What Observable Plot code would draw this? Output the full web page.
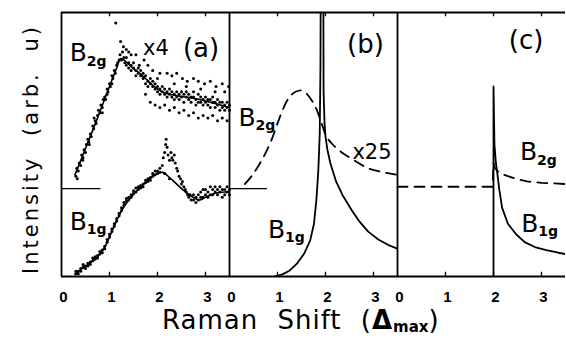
<!DOCTYPE html>
<html><head><meta charset="utf-8">
<script src="https://cdn.jsdelivr.net/npm/d3@7"></script>
<script src="https://cdn.jsdelivr.net/npm/@observablehq/plot@0.6"></script>
<style>
body{margin:0;background:#fff;overflow:hidden}
#wrap{position:relative;width:566px;height:339px;font-family:"DejaVu Sans",sans-serif;color:#000}
#ytitle{position:absolute;left:31px;top:149px;transform:translate(-50%,-50%) rotate(-90deg);white-space:nowrap;font-size:21px;letter-spacing:3px;word-spacing:10px;line-height:1}
#xtitle{position:absolute;left:162px;top:307px;white-space:nowrap;font-size:26px;letter-spacing:1px;word-spacing:10px;line-height:1}
#xtitle sub{font-size:15px;font-weight:bold;vertical-align:-3px;letter-spacing:0}
</style></head><body>
<div id="wrap"><div id="plot"></div><div id="ytitle">Intensity (arb. u)</div><div id="xtitle">Raman Shift (<b>Δ</b><sub>max</sub>)</div></div>
<script>
const panels = ["a", "b", "c"];
const xTicks = [0, 1, 2, 3];

// Panel (a): fits
const aB2gFitX = [0.28, 0.5, 0.75, 1.0, 1.15, 1.23, 1.3, 1.45, 1.66, 1.9, 2.09, 2.4, 2.66, 3.0, 3.2, 3.5];
const aB2gFitY = [0.385, 0.485, 0.60, 0.72, 0.79, 0.825, 0.82, 0.795, 0.765, 0.725, 0.70, 0.685, 0.678, 0.665, 0.655, 0.64];
const aB1gFitX = [0.28, 0.45, 0.65, 0.81, 0.92, 1.02, 1.12, 1.22, 1.32, 1.45, 1.6, 1.8, 1.95, 2.1, 2.25, 2.4, 2.55, 2.7, 2.87, 3.0, 3.2, 3.4, 3.5];
const aB1gFitY = [0.01, 0.032, 0.058, 0.087, 0.118, 0.158, 0.2, 0.238, 0.27, 0.30, 0.33, 0.364, 0.385, 0.395, 0.375, 0.35, 0.325, 0.305, 0.29, 0.30, 0.315, 0.32, 0.32];

// Panel (a): measured points [shift, intensity]
const aB2gPoints = [[0.30,0.38],[0.32,0.41],[0.33,0.37],[0.35,0.40],[0.37,0.43],[0.40,0.42],[0.42,0.46],[0.44,0.44],[0.45,0.45],[0.47,0.48],[0.50,0.47],[0.52,0.50],[0.55,0.52],[0.57,0.51],[0.58,0.50],[0.60,0.54],[0.62,0.53],[0.65,0.57],[0.67,0.56],[0.68,0.60],[0.70,0.59],[0.72,0.58],[0.75,0.61],[0.77,0.63],[0.80,0.62],[0.82,0.65],[0.85,0.64],[0.85,0.62],[0.87,0.67],[0.90,0.68],[0.92,0.67],[0.95,0.71],[0.95,0.69],[0.97,0.70],[1.00,0.73],[1.02,0.72],[1.05,0.76],[1.05,0.73],[1.07,0.75],[1.10,0.78],[1.12,0.77],[1.13,0.96],[1.15,0.80],[1.17,0.81],[1.20,0.82],[1.22,0.84],[1.23,0.89],[1.25,0.82],[1.27,0.85],[1.29,0.87],[1.30,0.83],[1.32,0.81],
[1.35,0.83],[1.35,0.80],[1.35,0.86],[1.40,0.81],[1.40,0.79],[1.40,0.85],[1.45,0.80],[1.45,0.78],[1.45,0.84],[1.50,0.79],[1.50,0.81],[1.55,0.78],[1.55,0.76],[1.55,0.84],[1.60,0.77],[1.60,0.79],[1.62,0.80],[1.65,0.76],[1.65,0.78],[1.70,0.75],[1.70,0.77],[1.72,0.82],[1.75,0.76],[1.75,0.73],[1.75,0.69],[1.80,0.74],[1.80,0.72],[1.80,0.80],[1.85,0.73],[1.85,0.75],[1.85,0.66],[1.90,0.72],[1.90,0.74],[1.90,0.78],[1.95,0.71],[1.95,0.73],[1.95,0.65],[2.00,0.70],[2.00,0.72],[2.00,0.75],[2.05,0.71],[2.05,0.69],[2.05,0.77],[2.05,0.64],[2.10,0.70],[2.10,0.72],[2.15,0.69],[2.15,0.71],[2.15,0.65],[2.20,0.70],[2.20,0.68],[2.20,0.77],[2.25,0.69],[2.25,0.71],[2.25,0.63],[2.30,0.68],[2.30,0.70],[2.30,0.76],[2.35,0.69],[2.35,0.67],[2.35,0.73],[2.35,0.64],[2.40,0.70],[2.40,0.68],[2.40,0.77],[2.45,0.67],[2.45,0.69],[2.45,0.62],[2.50,0.68],[2.50,0.70],[2.52,0.75],[2.55,0.66],[2.55,0.69],[2.55,0.63],[2.60,0.68],[2.60,0.70],[2.60,0.72],[2.62,0.74],[2.65,0.67],[2.65,0.69],[2.65,0.61],[2.70,0.66],[2.70,0.68],[2.75,0.68],[2.75,0.70],[2.75,0.75],[2.75,0.62],[2.80,0.67],[2.80,0.65],[2.85,0.66],[2.85,0.69],[2.85,0.74],[2.85,0.60],[2.90,0.68],[2.90,0.66],[2.90,0.71],[2.95,0.67],[2.95,0.65],[2.95,0.61],[2.98,0.73],[3.00,0.66],[3.00,0.68],[3.05,0.65],[3.05,0.67],[3.05,0.60],[3.10,0.67],[3.10,0.64],[3.10,0.74],[3.15,0.66],[3.15,0.68],[3.15,0.61],[3.20,0.64],[3.20,0.66],[3.20,0.70],[3.22,0.72],[3.25,0.65],[3.25,0.67],[3.25,0.59],[3.30,0.66],[3.30,0.63],[3.35,0.64],[3.35,0.66],[3.35,0.73],[3.35,0.60],[3.40,0.65],[3.40,0.63],[3.40,0.70],[3.45,0.64],[3.45,0.66],[3.45,0.59],[3.48,0.72],[3.50,0.63],[3.50,0.65]];
const aB1gPoints = [[0.30,0.01],[0.30,0.02],[0.35,0.02],[0.35,0.01],[0.40,0.03],[0.40,0.02],[0.45,0.035],[0.45,0.045],[0.50,0.04],[0.50,0.03],[0.55,0.05],[0.55,0.04],[0.60,0.055],[0.60,0.045],[0.65,0.06],[0.65,0.07],[0.70,0.065],[0.70,0.075],[0.75,0.08],[0.75,0.07],[0.80,0.085],[0.80,0.095],[0.85,0.10],[0.85,0.09],[0.90,0.115],[0.90,0.105],[0.95,0.13],[0.95,0.14],[1.00,0.15],[1.00,0.16],[1.05,0.17],[1.05,0.18],[1.10,0.20],[1.10,0.19],[1.15,0.22],[1.15,0.21],[1.20,0.24],[1.20,0.23],[1.25,0.25],[1.25,0.26],[1.30,0.27],[1.30,0.28],[1.35,0.285],[1.35,0.295],[1.40,0.30],[1.40,0.29],[1.45,0.30],[1.45,0.31],[1.50,0.315],[1.50,0.325],[1.55,0.32],[1.55,0.335],[1.60,0.33],[1.60,0.34],[1.65,0.345],[1.65,0.335],[1.70,0.35],[1.70,0.34],[1.75,0.355],[1.75,0.365],[1.80,0.36],[1.80,0.37],[1.85,0.375],[1.85,0.365],[1.90,0.38],[1.90,0.39],[1.95,0.385],[1.95,0.40],[2.00,0.39],[2.00,0.40],[2.05,0.41],[2.05,0.395],
[2.10,0.42],[2.12,0.45],[2.15,0.47],[2.15,0.39],[2.17,0.50],[2.18,0.52],[2.20,0.49],[2.22,0.46],[2.25,0.44],[2.25,0.37],[2.28,0.47],[2.30,0.45],[2.32,0.44],[2.35,0.46],[2.37,0.43],[2.40,0.41],[2.42,0.40],[2.45,0.38],[2.48,0.37],[2.50,0.35],[2.52,0.36],[2.55,0.34],[2.58,0.33],[2.60,0.32],[2.63,0.31],[2.65,0.30],[2.68,0.31],[2.70,0.29],
[2.75,0.29],[2.75,0.31],[2.80,0.30],[2.80,0.28],[2.85,0.31],[2.85,0.29],[2.90,0.32],[2.90,0.30],[2.95,0.30],[2.95,0.33],[3.00,0.31],[3.00,0.33],[3.05,0.32],[3.05,0.30],[3.10,0.34],[3.10,0.31],[3.15,0.33],[3.15,0.31],[3.20,0.32],[3.20,0.34],[3.25,0.31],[3.25,0.33],[3.30,0.34],[3.30,0.32],[3.35,0.30],[3.35,0.33],[3.40,0.33],[3.40,0.31],[3.45,0.32],[3.45,0.34],[3.50,0.31],[3.50,0.33]];

// Zero level of the shifted B2g spectra (panels a and b)
const zeroPanels = ["a", "b"];
const zeroEnd = [0.8, 0.77];
const zeroLevel = 0.333;

// Panel (b)
const bB1gX = [0.93, 1.1, 1.25, 1.41, 1.55, 1.68, 1.76, 1.81, 1.85, 1.88, 1.895, 1.90, 1.955, 1.96, 1.98, 2.0, 2.04, 2.1, 2.22, 2.35, 2.55, 2.7, 2.89, 3.1, 3.3, 3.5];
const bB1gY = [0.0, 0.008, 0.022, 0.05, 0.085, 0.136, 0.2, 0.29, 0.4, 0.54, 0.8, 1.1, 1.1, 0.7, 0.58, 0.53, 0.48, 0.43, 0.36, 0.31, 0.25, 0.21, 0.17, 0.14, 0.12, 0.105];
const bB2gX = [0.32, 0.5, 0.7, 0.87, 1.0, 1.13, 1.25, 1.38, 1.5, 1.62, 1.72, 1.82, 1.92, 2.02, 2.15, 2.34, 2.6, 2.89, 3.2, 3.5];
const bB2gY = [0.35, 0.39, 0.45, 0.515, 0.58, 0.64, 0.68, 0.70, 0.705, 0.69, 0.665, 0.63, 0.58, 0.53, 0.50, 0.47, 0.44, 0.41, 0.395, 0.385];

// Panel (c)
const cB1gX = [2.0, 2.0, 2.02, 2.05, 2.08, 2.12, 2.18, 2.3, 2.47, 2.65, 2.88, 3.1, 3.35, 3.5];
const cB1gY = [0.0, 0.72, 0.5, 0.43, 0.39, 0.33, 0.26, 0.2, 0.16, 0.13, 0.11, 0.10, 0.09, 0.085];
const cB2gX = [0, 0.5, 1.0, 1.5, 1.98, 2.0, 2.03, 2.08, 2.15, 2.3, 2.47, 2.7, 3.0, 3.35, 3.5];
const cB2gY = [0.34, 0.34, 0.34, 0.34, 0.34, 0.43, 0.41, 0.40, 0.39, 0.38, 0.37, 0.36, 0.355, 0.352, 0.35];

// Annotations
const symPanel = ["a", "a", "b", "b", "c", "c"];
const symX = [0.17, 0.17, 0.19, 0.80, 2.55, 2.58];
const symY = [0.845, 0.208, 0.602, 0.178, 0.47, 0.20];
const symSub = ["2g", "1g", "2g", "1g", "2g", "1g"];
const scalePanel = ["a", "b"];
const scaleX = [1.70, 2.56];
const scaleY = [0.864, 0.47];
const scaleText = ["x4", "x25"];
const tagPanel = ["a", "b", "c"];
const tagX = [2.53, 2.45, 2.32];
const tagY = [0.864, 0.879, 0.894];
const tagText = ["(a)", "(b)", "(c)"];

const rows = (panel, xs, ys) => xs.map((x, i) => ({panel, x, y: ys[i]}));
const pts = (panel, arr) => arr.map(([x, y]) => ({panel, x, y}));

const solid = [
  ...rows("a", aB2gFitX, aB2gFitY).map(d => ({...d, s: "a2"})),
  ...rows("a", aB1gFitX, aB1gFitY).map(d => ({...d, s: "a1"}))
];
const spiky = [
  ...rows("b", bB1gX, bB1gY).map(d => ({...d, s: "b1"})),
  ...rows("c", cB1gX, cB1gY).map(d => ({...d, s: "c1"}))
];
const dashedB = rows("b", bB2gX, bB2gY);
const dashedC = rows("c", cB2gX, cB2gY);
const dots = [...pts("a", aB2gPoints), ...pts("a", aB1gPoints)];
const zeros = zeroPanels.flatMap((p, i) => [{panel: p, x: 0, y: zeroLevel}, {panel: p, x: zeroEnd[i], y: zeroLevel}]);
const syms = symPanel.map((p, i) => ({panel: p, x: symX[i], y: symY[i], sub: symSub[i]}));
const scales = scalePanel.map((p, i) => ({panel: p, x: scaleX[i], y: scaleY[i], t: scaleText[i]}));
const tags = tagPanel.map((p, i) => ({panel: p, x: tagX[i], y: tagY[i], t: tagText[i]}));

const lab = "DejaVu Sans, sans-serif";
const chart = Plot.plot({
  width: 566, height: 310,
  marginTop: 12, marginBottom: 34, marginLeft: 60, marginRight: 0,
  style: {fontFamily: "DejaVu Sans, sans-serif", background: "white", color: "black"},
  fx: {domain: panels, padding: 0, axis: null},
  x: {domain: [0, 3.5], axis: null},
  y: {domain: [0, 1], axis: null},
  marks: [
    Plot.ruleY([0, 1], {stroke: "black", strokeWidth: 1.8}),
    Plot.ruleX([0], {stroke: "black", strokeWidth: 1.8}),
    Plot.ruleX(xTicks.slice(1), {y1: 0, y2: 0.016, stroke: "black", strokeWidth: 1.3}),
    Plot.ruleX(xTicks.slice(1), {y1: 0.984, y2: 1, stroke: "black", strokeWidth: 1.3}),
    Plot.text(xTicks, {x: d => d, frameAnchor: "bottom", lineAnchor: "top", dy: 15, dx: 2, text: d => String(d), fontSize: 15, fontWeight: "bold", fontFamily: "Liberation Sans, Arial, sans-serif"}),
    Plot.line(zeros, {x: "x", y: "y", z: "panel", fx: "panel", stroke: "black", strokeWidth: 1.4}),
    Plot.dot(dots, {x: "x", y: "y", fx: "panel", r: 1.5, fill: "black", stroke: null}),
    Plot.line(solid, {x: "x", y: "y", z: "s", fx: "panel", stroke: "black", strokeWidth: 1.6, curve: "catmull-rom"}),
    Plot.line(spiky, {x: "x", y: "y", z: "s", fx: "panel", stroke: "black", strokeWidth: 1.8, clip: true}),
    Plot.line(dashedB, {x: "x", y: "y", fx: "panel", stroke: "black", strokeWidth: 1.8, strokeDasharray: "10,7", curve: "catmull-rom"}),
    Plot.line(dashedC, {x: "x", y: "y", fx: "panel", stroke: "black", strokeWidth: 1.8, strokeDasharray: "10,7"}),
    Plot.text(syms, {x: "x", y: "y", fx: "panel", text: () => "B", textAnchor: "start", fontSize: 25, fontFamily: lab}),
    Plot.text(syms, {x: "x", y: "y", fx: "panel", text: "sub", textAnchor: "start", dx: 17, dy: 8, fontSize: 14, fontWeight: "bold", fontFamily: lab}),
    Plot.text(scales, {x: "x", y: "y", fx: "panel", text: "t", textAnchor: "start", fontSize: 21, fontFamily: lab}),
    Plot.text(tags, {x: "x", y: "y", fx: "panel", text: "t", textAnchor: "start", fontSize: 26, fontFamily: lab})
  ]
});
document.getElementById("plot").appendChild(chart);
</script></body></html>
